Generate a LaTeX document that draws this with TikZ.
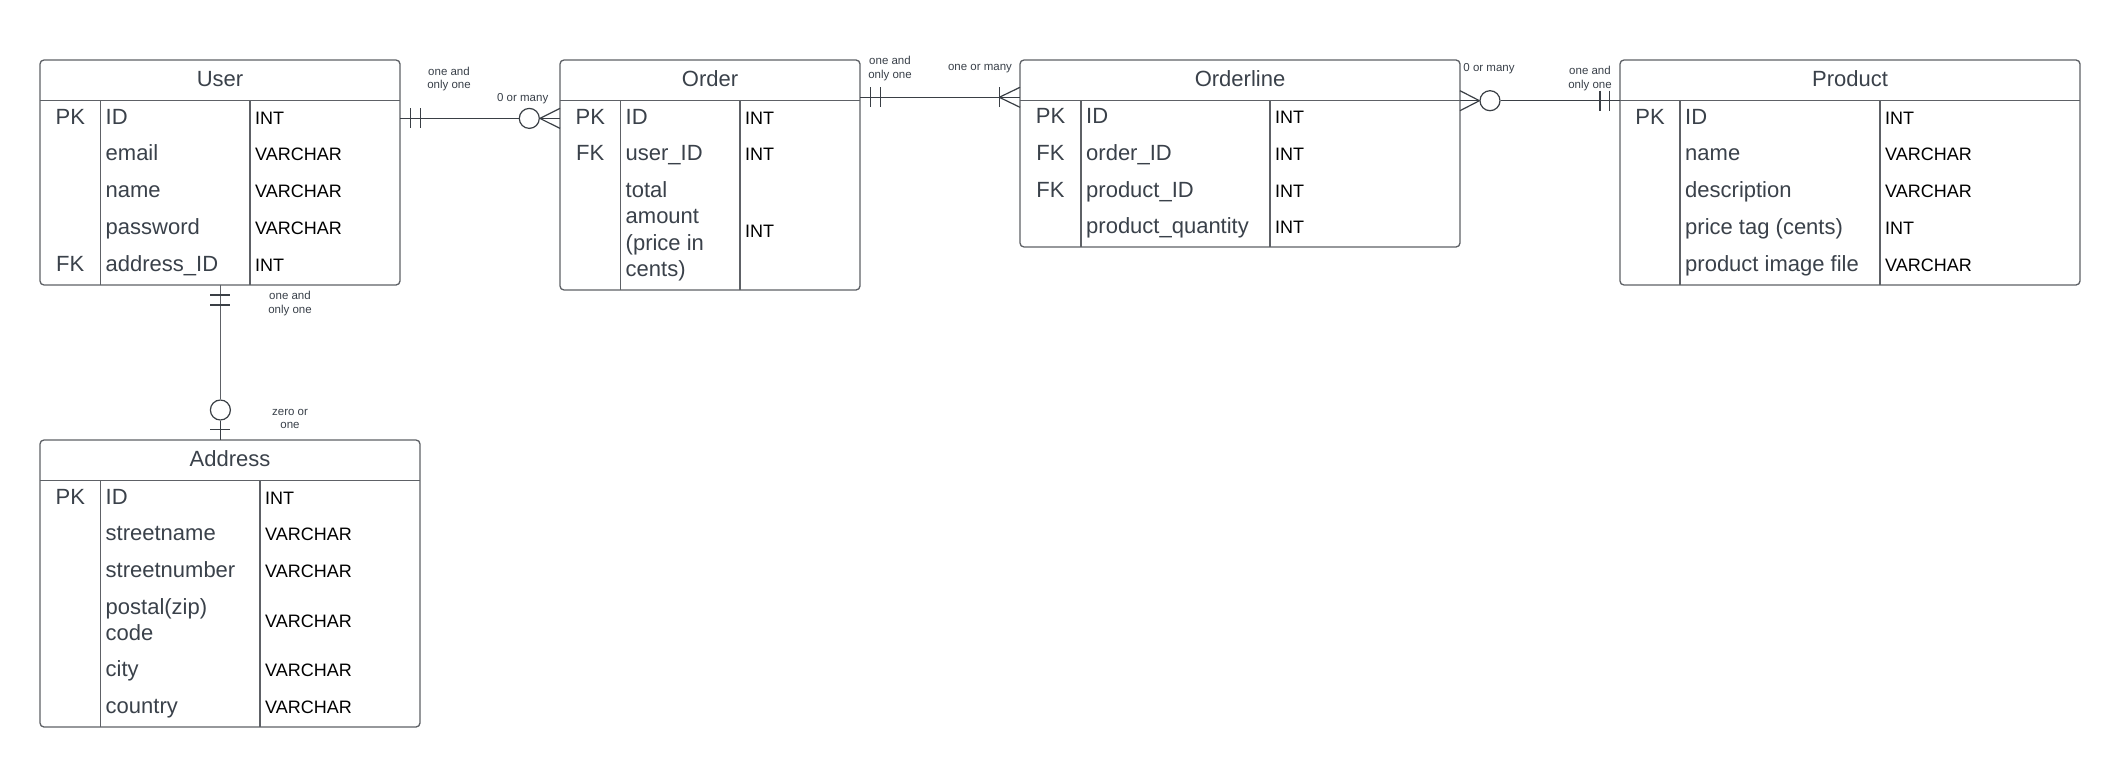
\documentclass[tikz,border=0pt]{standalone}
\usepackage{fontspec}
\setmainfont{Liberation Sans}
\usetikzlibrary{calc}
\definecolor{ink}{HTML}{3A414A}
\definecolor{edgec}{HTML}{5E6166}
\definecolor{wirec}{HTML}{3A3F45}
\tikzset{
  tbl/.style={draw=edgec, line width=1.3pt, rounded corners=4pt, inner sep=0pt, outer sep=0pt, anchor=north west},
  sepline/.style={draw=edgec, line width=1.3pt},
  ttltxt/.style={font=\fontsize{22}{26}\selectfont, text=ink, anchor=base, inner sep=0pt},
  keytxt/.style={font=\fontsize{22}{26}\selectfont, text=ink, anchor=base, inner sep=0pt},
  fldtxt/.style={font=\fontsize{22}{26}\selectfont, text=ink, anchor=base west, inner sep=0pt},
  typtxt/.style={font=\fontsize{18}{21}\selectfont, text=black, anchor=base west, inner sep=0pt},
  lbltxt/.style={font=\fontsize{11.5}{13.5}\selectfont, text=ink, align=center, inner sep=0pt},
  wire/.style={draw=wirec, line width=1.2pt},
  circ/.style={circle, draw=wirec, line width=1.2pt, minimum size=20pt, inner sep=0pt, fill=white},
}
\begin{document}
\begin{tikzpicture}[x=1pt,y=-1pt]
\fill[white] (0,0) rectangle (2120,768);
\useasboundingbox (0,0) rectangle (2120,768);

% ---------------- User
\node[tbl, minimum width=360pt, minimum height=225pt] (user) at (40,60) {};
\node[ttltxt] (userT) at (220,86) {User};
\draw[sepline] (40,100.5) -- (400,100.5);
\draw[sepline] (100.5,100.5) -- (100.5,285);
\draw[sepline] (250,100.5) -- (250,285);
\node[keytxt] (uk1) at (70.25,124) {PK};
\node[fldtxt] (uf1) at (105.5,124) {ID};
\node[typtxt] (ut1) at (255,124) {INT};
\node[fldtxt] (uf2) at (105.5,160.8) {email};
\node[typtxt] (ut2) at (255,160.8) {VARCHAR};
\node[fldtxt] (uf3) at (105.5,197.6) {name};
\node[typtxt] (ut3) at (255,197.6) {VARCHAR};
\node[fldtxt] (uf4) at (105.5,234.4) {password};
\node[typtxt] (ut4) at (255,234.4) {VARCHAR};
\node[keytxt] (uk5) at (70.25,271.2) {FK};
\node[fldtxt] (uf5) at (105.5,271.2) {address\_ID};
\node[typtxt] (ut5) at (255,271.2) {INT};

% ---------------- Order
\node[tbl, minimum width=300pt, minimum height=230pt] (order) at (560,60) {};
\node[ttltxt] (orderT) at (710,86) {Order};
\draw[sepline] (560,100.5) -- (860,100.5);
\draw[sepline] (620.5,100.5) -- (620.5,290);
\draw[sepline] (740,100.5) -- (740,290);
\node[keytxt] (ok1) at (590.25,124) {PK};
\node[fldtxt] (of1) at (625.5,124) {ID};
\node[typtxt] (ot1) at (745,124) {INT};
\node[keytxt] (ok2) at (590.25,160.8) {FK};
\node[fldtxt] (of2) at (625.5,160.8) {user\_ID};
\node[typtxt] (ot2) at (745,160.8) {INT};
\node[fldtxt] (of3a) at (625.5,197.5) {total};
\node[fldtxt] (of3b) at (625.5,223.9) {amount};
\node[fldtxt] (of3c) at (625.5,250.3) {(price in};
\node[fldtxt] (of3d) at (625.5,276.7) {cents)};
\node[typtxt] (ot3) at (745,237) {INT};

% ---------------- Orderline
\node[tbl, minimum width=440pt, minimum height=187pt] (orderline) at (1020,60) {};
\node[ttltxt] (olT) at (1240,86) {Orderline};
\draw[sepline] (1020,100.5) -- (1460,100.5);
\draw[sepline] (1081,100.5) -- (1081,247);
\draw[sepline] (1270,100.5) -- (1270,247);
\node[keytxt] (lk1) at (1050.5,123.9) {PK};
\node[fldtxt] (lf1) at (1086,123.9) {ID};
\node[typtxt] (lt1) at (1275,123.9) {INT};
\node[keytxt] (lk2) at (1050.5,160.5) {FK};
\node[fldtxt] (lf2) at (1086,160.5) {order\_ID};
\node[typtxt] (lt2) at (1275,160.5) {INT};
\node[keytxt] (lk3) at (1050.5,197.1) {FK};
\node[fldtxt] (lf3) at (1086,197.1) {product\_ID};
\node[typtxt] (lt3) at (1275,197.1) {INT};
\node[fldtxt] (lf4) at (1086,233.7) {product\_quantity};
\node[typtxt] (lt4) at (1275,233.7) {INT};

% ---------------- Product
\node[tbl, minimum width=460pt, minimum height=225pt] (product) at (1620,60) {};
\node[ttltxt] (prT) at (1850,86) {Product};
\draw[sepline] (1620,100.5) -- (2080,100.5);
\draw[sepline] (1680,100.5) -- (1680,285);
\draw[sepline] (1880,100.5) -- (1880,285);
\node[keytxt] (pk1) at (1650,124) {PK};
\node[fldtxt] (pf1) at (1685,124) {ID};
\node[typtxt] (pt1) at (1885,124) {INT};
\node[fldtxt] (pf2) at (1685,160.8) {name};
\node[typtxt] (pt2) at (1885,160.8) {VARCHAR};
\node[fldtxt] (pf3) at (1685,197.6) {description};
\node[typtxt] (pt3) at (1885,197.6) {VARCHAR};
\node[fldtxt] (pf4) at (1685,234.4) {price tag (cents)};
\node[typtxt] (pt4) at (1885,234.4) {INT};
\node[fldtxt] (pf5) at (1685,271.2) {product image file};
\node[typtxt] (pt5) at (1885,271.2) {VARCHAR};

% ---------------- Address
\node[tbl, minimum width=380pt, minimum height=287pt] (address) at (40,440) {};
\node[ttltxt] (adT) at (230,466) {Address};
\draw[sepline] (40,480.5) -- (420,480.5);
\draw[sepline] (100.5,480.5) -- (100.5,727);
\draw[sepline] (260,480.5) -- (260,727);
\node[keytxt] (ak1) at (70.25,504) {PK};
\node[fldtxt] (af1) at (105.5,504) {ID};
\node[typtxt] (at1) at (265,504) {INT};
\node[fldtxt] (af2) at (105.5,540.8) {streetname};
\node[typtxt] (at2) at (265,540.8) {VARCHAR};
\node[fldtxt] (af3) at (105.5,577.6) {streetnumber};
\node[typtxt] (at3) at (265,577.6) {VARCHAR};
\node[fldtxt] (af4a) at (105.5,614) {postal(zip)};
\node[fldtxt] (af4b) at (105.5,640) {code};
\node[typtxt] (at4) at (265,627) {VARCHAR};
\node[fldtxt] (af5) at (105.5,676.9) {city};
\node[typtxt] (at5) at (265,676.9) {VARCHAR};
\node[fldtxt] (af6) at (105.5,713.7) {country};
\node[typtxt] (at6) at (265,713.7) {VARCHAR};

% ---------------- User -- Order (one and only one / 0 or many)
\node[circ] (o1) at (529.3,118.4) {};
\draw[wire] (user.east |- o1) -- (o1.west);
\draw[wire] (o1.east) -- (order.west |- o1);
\draw[wire] (o1.east) -- ($(order.west |- o1)+(0,-10)$);
\draw[wire] (o1.east) -- ($(order.west |- o1)+(0,10)$);
\draw[wire] ($(user.east |- o1)+(10.7,-10)$) -- ++(0,20);
\draw[wire] ($(user.east |- o1)+(20.7,-10)$) -- ++(0,20);
\node[lbltxt] (l1) at (449,79.2) {one and\\only one};
\node[lbltxt] (l2) at (522.7,99) {0 or many};

% ---------------- Order -- Orderline (one and only one / one or many)
\coordinate (c2) at (999.3,97.3);
\draw[wire] (order.east |- c2) -- (orderline.west |- c2);
\draw[wire] ($(order.east |- c2)+(10.7,-10)$) -- ++(0,20);
\draw[wire] ($(order.east |- c2)+(20.7,-10)$) -- ++(0,20);
\draw[wire] ($(c2)+(0,-10)$) -- ++(0,20);
\draw[wire] (c2) -- ($(orderline.west |- c2)+(0,-10)$);
\draw[wire] (c2) -- ($(orderline.west |- c2)+(0,10)$);
\node[lbltxt] (l3) at (890,68.7) {one and\\only one};
\node[lbltxt] (l4) at (980,69) {one or many};

% ---------------- Orderline -- Product (0 or many / one and only one)
\node[circ] (o3) at (1490,100.7) {};
\draw[wire] (orderline.east |- o3) -- (o3.west);
\draw[wire] (o3.west) -- ($(orderline.east |- o3)+(0,-10)$);
\draw[wire] (o3.west) -- ($(orderline.east |- o3)+(0,10)$);
\draw[wire] (o3.east) -- (product.west |- o3);
\draw[wire] ($(product.west |- o3)+(-20,-10)$) -- ++(0,20);
\draw[wire] ($(product.west |- o3)+(-10.7,-10)$) -- ++(0,20);
\node[lbltxt] (l5) at (1489,69) {0 or many};
\node[lbltxt] (l6) at (1590,78.4) {one and\\only one};

% ---------------- User -- Address (one and only one / zero or one)
\node[circ] (o4) at (220.4,410) {};
\draw[wire, draw=edgec, line width=1.0pt] (user.south -| o4) -- (o4.north);
\draw[wire] (o4.south) -- (address.north -| o4);
\draw[wire] ($(user.south -| o4)+(-10,10)$) -- ++(20,0);
\draw[wire] ($(user.south -| o4)+(-10,20)$) -- ++(20,0);
\draw[wire] ($(address.north -| o4)+(-10,-10.7)$) -- ++(20,0);
\node[lbltxt] (l7) at (290,303.3) {one and\\only one};
\node[lbltxt] (l8) at (290,418.8) {zero or\\one};
\end{tikzpicture}
\end{document}
